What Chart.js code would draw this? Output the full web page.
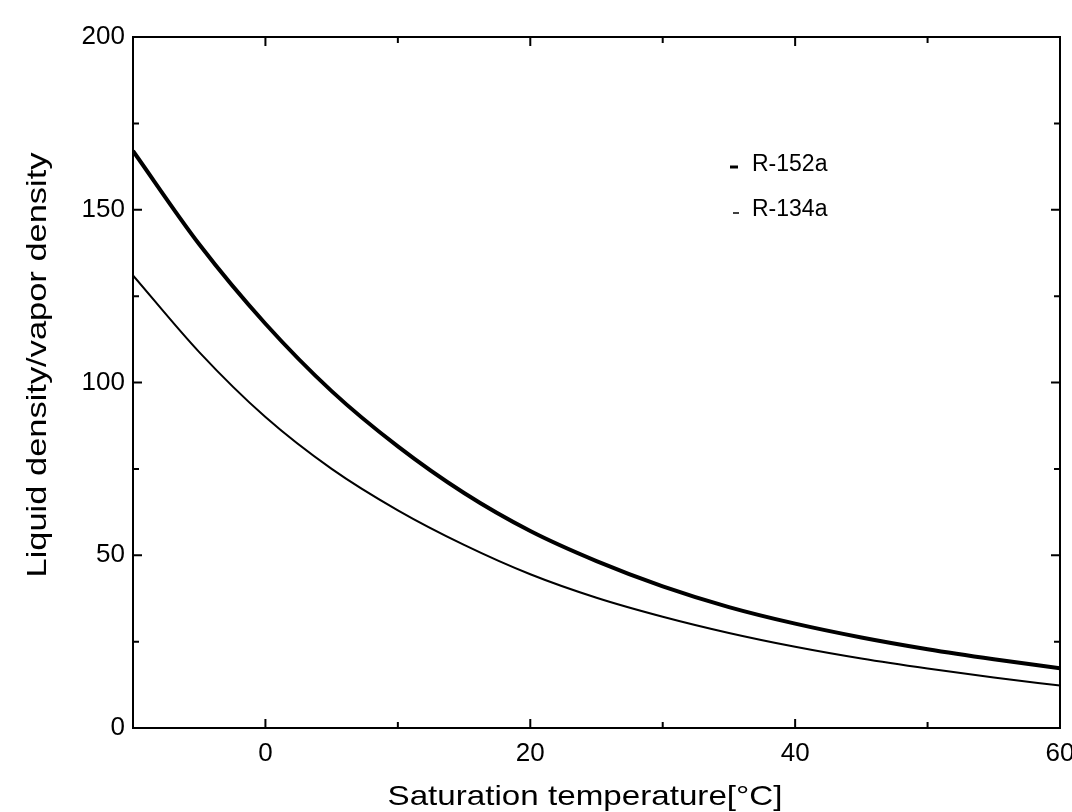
<!DOCTYPE html>
<html>
<head>
<meta charset="utf-8">
<script src="https://cdn.jsdelivr.net/npm/chart.js@4"></script>
<style>
    html, body { margin: 0; padding: 0; background: #fff; }
    #wrap { width: 1072px; height: 812px; }
</style>
</head>
<body>
<div id="wrap"><canvas id="densityRatio" width="1072" height="812"></canvas></div>
<script>
// Values
const temps = [-10, -5, 0, 5, 10, 15, 20, 25, 30, 35, 40, 45, 50, 55, 60];
const r152a = [167, 140, 117, 97.5, 81.5, 68, 57, 48.3, 41, 35, 30.2, 26.2, 22.8, 19.9, 17.3];
const r134a = [131, 108.8, 90, 75, 63, 53, 44.5, 37.7, 32.2, 27.5, 23.5, 20.1, 17.2, 14.6, 12.3];

const xTicks = [0, 20, 40, 60];
const xMinor = [10, 30, 50];
const yTicks = [0, 50, 100, 150, 200];
const yMinor = [25, 75, 125, 175];

const xTitle = 'Saturation temperature[°C]';
const yTitle = 'Liquid density/vapor density';

const font = 'Liberation Sans, Arial, sans-serif';

// stretched text, like the scanned original
function wideText(ctx, text, cx, cy, len, angle) {
    ctx.save();
    ctx.translate(cx, cy);
    ctx.rotate(angle);
    const w = ctx.measureText(text).width;
    ctx.scale(len / w, 1);
    ctx.fillText(text, 0, 0);
    ctx.restore();
}

// Frame plus inward ticks on all four sides
const framePlugin = {
    id: 'frame',
    afterDraw(chart) {
        const ctx = chart.ctx;
        const a = chart.chartArea;
        const xs = chart.scales.x;
        const ys = chart.scales.y;
        ctx.save();
        ctx.strokeStyle = '#000';
        ctx.lineWidth = 2;
        ctx.strokeRect(a.left, a.top, a.right - a.left, a.bottom - a.top);

        const tick = (vals, len) => {
            vals.forEach(v => {
                const px = xs.getPixelForValue(v);
                ctx.beginPath();
                ctx.moveTo(px, a.bottom); ctx.lineTo(px, a.bottom - len);
                ctx.moveTo(px, a.top); ctx.lineTo(px, a.top + len);
                ctx.stroke();
            });
        };
        const ytick = (vals, len) => {
            vals.forEach(v => {
                const py = ys.getPixelForValue(v);
                ctx.beginPath();
                ctx.moveTo(a.left, py); ctx.lineTo(a.left + len, py);
                ctx.moveTo(a.right, py); ctx.lineTo(a.right - len, py);
                ctx.stroke();
            });
        };
        tick(xTicks, 9);
        tick(xMinor, 6);
        ytick(yTicks, 9);
        ytick(yMinor, 6);

        // axis titles
        ctx.fillStyle = '#000';
        ctx.font = '28px ' + font;
        ctx.textBaseline = 'middle';
        ctx.textAlign = 'center';
        wideText(ctx, xTitle, 585, 797, 395, 0);
        wideText(ctx, yTitle, 38, 365, 425, -Math.PI / 2);

        // legend
        ctx.font = '23px ' + font;
        ctx.textAlign = 'left';
        ctx.fillText('R-152a', 752, 165);
        ctx.fillText('R-134a', 752, 210);
        ctx.lineWidth = 3;
        ctx.beginPath();
        ctx.moveTo(730, 167); ctx.lineTo(738, 167);
        ctx.stroke();
        ctx.lineWidth = 1.5;
        ctx.beginPath();
        ctx.moveTo(733, 213); ctx.lineTo(739, 213);
        ctx.stroke();
        ctx.restore();
    }
};

new Chart(document.getElementById('densityRatio'), {
    type: 'line',
    data: {
        datasets: [{
            label: 'R-152a',
            data: temps.map((t, i) => ({ x: t, y: r152a[i] })),
            borderColor: '#000',
            borderWidth: 4,
            pointRadius: 0,
            cubicInterpolationMode: 'monotone'
        }, {
            label: 'R-134a',
            data: temps.map((t, i) => ({ x: t, y: r134a[i] })),
            borderColor: '#000',
            borderWidth: 2,
            pointRadius: 0,
            cubicInterpolationMode: 'monotone'
        }]
    },
    options: {
        responsive: false,
        animation: false,
        layout: { padding: { top: 37, right: 12, left: 0, bottom: 0 } },
        plugins: {
            legend: { display: false },
            tooltip: { enabled: false }
        },
        scales: {
            x: {
                type: 'linear',
                min: -10,
                max: 60,
                afterBuildTicks: s => { s.ticks = xTicks.map(v => ({ value: v })); },
                afterFit: s => { s.height = 84; s.paddingRight = 0; s.paddingLeft = 0; },
                grid: { display: false, drawTicks: false },
                border: { display: false },
                ticks: { color: '#000', padding: 10, maxRotation: 0, font: { family: font, size: 26 } },
                title: { display: false }
            },
            y: {
                min: 0,
                max: 200,
                afterBuildTicks: s => { s.ticks = yTicks.map(v => ({ value: v })); },
                afterFit: s => { s.width = 133; s.paddingTop = 0; s.paddingBottom = 0; },
                grid: { display: false, drawTicks: false },
                border: { display: false },
                ticks: { color: '#000', padding: 8, font: { family: font, size: 26 } },
                title: { display: false }
            }
        }
    },
    plugins: [framePlugin]
});
</script>
</body>
</html>
